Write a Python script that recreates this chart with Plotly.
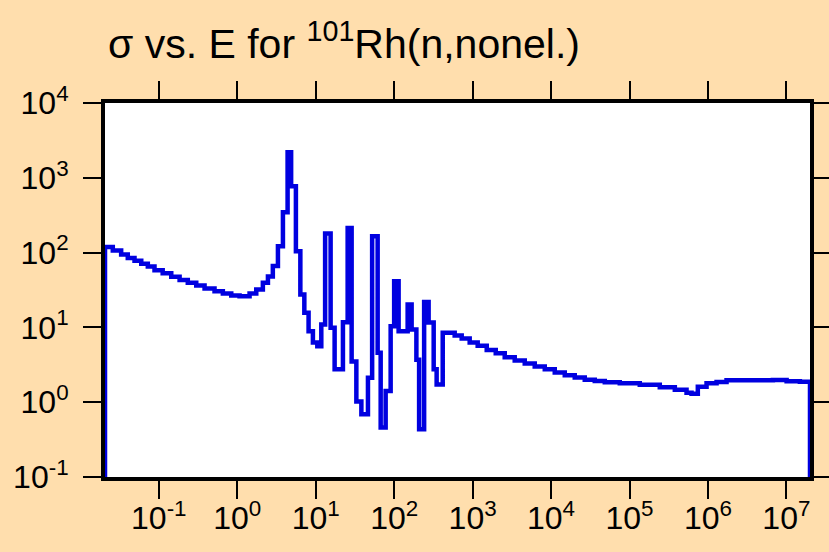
import numpy as np
import plotly.graph_objects as go

## Data: step boundaries (eV) and cross sections (b)
# ============================================================================
energy_ev = [
    0.0206, 0.0259, 0.0331, 0.0402, 0.0490, 0.0597, 0.0724, 0.0881, 0.112,
    0.144, 0.184, 0.234, 0.300, 0.383, 0.513, 0.655, 0.838, 1.07, 1.435,
    1.746, 2.12, 2.46, 2.84, 3.30, 3.82, 4.38, 4.86, 5.59, 6.37, 7.16, 8.11,
    9.21, 10.48, 11.78, 13.18, 15.49, 17.42, 22.23, 25.53, 28.71, 32.96,
    38.19, 46.35, 52.4, 61.6, 67.3, 77.9, 90.2, 100.0, 114.0, 148.6, 167.0,
    192.0, 208.0, 241.0, 275.0, 319.0, 348.0, 416.0, 591.0, 726.0, 918.0,
    1161.0, 1514.0, 1972.0, 2567.0, 3443.0, 4621.0, 6194.0, 8318.0, 11150.0,
    14960.0, 20050.0, 26900.0, 36070.0, 48420.0, 75160.0, 135200.0,
    243300.0, 378400.0, 533500.0, 618000.0, 743000.0, 960000.0, 1.288e6,
    1.726e6, 3.42e6, 6.73e6, 1.007e7, 1.486e7,
]
sigma_b = [
    119, 107, 94, 85, 78, 71, 65, 58, 53,
    47.5, 43, 39.5, 36.4, 33.2, 30.5, 28.5, 26.7, 26.0, 28.5,
    32, 39.5, 48, 66, 122, 346, 2200, 770, 104, 27.6, 15.7, 8.9,
    6.3, 5.6, 10.9, 180, 9.9, 2.75, 11.7, 214, 3.5, 1.02,
    0.69, 2.13, 166, 4.6, 0.46, 1.41, 10.4, 41.5, 8.9, 20.3, 9.4,
    3.7, 0.435, 21.8, 11.6, 2.75, 1.73, 8.5, 7.8, 7.1, 6.3,
    5.7, 5.0, 4.5, 4.0, 3.6, 3.3, 3.0, 2.75, 2.5,
    2.3, 2.14, 2.0, 1.92, 1.85, 1.79, 1.71,
    1.58, 1.47, 1.34, 1.30, 1.61, 1.79, 1.86,
    1.96, 1.96, 1.98, 1.90, 1.88,
]
e_min = 0.0206
e_max = 2.0e7
sigma_floor = 1e-3   # onder de as: verticale lijnen aan de randen

x_tickvals = [1e-1, 1e0, 1e1, 1e2, 1e3, 1e4, 1e5, 1e6, 1e7]
x_ticktext = ['10<sup>-1</sup>', '10<sup>0</sup>', '10<sup>1</sup>', '10<sup>2</sup>',
              '10<sup>3</sup>', '10<sup>4</sup>', '10<sup>5</sup>', '10<sup>6</sup>',
              '10<sup>7</sup>']
y_tickvals = [1e-1, 1e0, 1e1, 1e2, 1e3, 1e4]
y_ticktext = ['10<sup>-1</sup>', '10<sup>0</sup>', '10<sup>1</sup>', '10<sup>2</sup>',
              '10<sup>3</sup>', '10<sup>4</sup>']

## Stap-curve opbouwen:
# ======================================
x_plot = [e_min] + energy_ev + [e_max]
y_plot = [sigma_floor] + sigma_b + [sigma_floor]

fig = go.Figure()
fig.add_trace(
    go.Scatter(
        x=x_plot,
        y=y_plot,
        mode='lines',
        line=dict(color='#0000E0', width=4.5, shape='hv'),
        hoverinfo='none',
        showlegend=False,
    )
)

tick_font = dict(family='Liberation Sans, Arial, sans-serif', size=32, color='black')

axis_style = dict(
    type='log',
    showline=True,
    linecolor='black',
    linewidth=4,
    mirror='ticks',
    ticks='outside',
    ticklen=18,
    tickwidth=2,
    tickcolor='black',
    showgrid=False,
    zeroline=False,
    automargin=False,
    tickfont=tick_font,
)

fig.update_xaxes(
    **axis_style,
    range=[np.log10(e_min), np.log10(e_max)],
    tickvals=x_tickvals,
    ticktext=x_ticktext,
    ticklabelstandoff=-8,
)
fig.update_yaxes(
    **axis_style,
    range=[-1, 4],
    tickvals=y_tickvals,
    ticktext=y_ticktext,
    ticklabelstandoff=8,
)

fig.update_layout(
    width=829,
    height=552,
    margin=dict(l=105, r=19, t=103, b=75),
    paper_bgcolor='#FFDEAD',
    plot_bgcolor='white',
    title=dict(
        text='σ vs. E for <sup>101</sup>Rh(n,nonel.)',
        font=dict(family='Liberation Sans, Arial, sans-serif', size=41, color='black'),
        xref='container',
        yref='container',
        x=108 / 829,
        xanchor='left',
        y=1 - 44 / 552,
        yanchor='middle',
    ),
)

## Body-marge van de pagina weghalen, geen modebar:
# --------------------------------------
fig.write_html(
    "out.html",
    config=dict(displayModeBar=False),
    post_script="document.body.style.margin='0';",
)
